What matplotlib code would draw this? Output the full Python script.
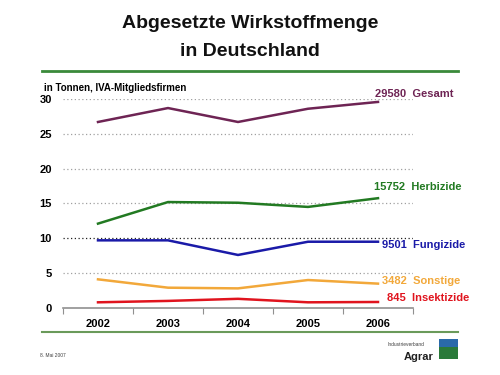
import matplotlib
matplotlib.use("Agg")
import matplotlib.pyplot as plt
from matplotlib.patches import Rectangle
from matplotlib.lines import Line2D
import numpy as np

plt.rcParams['font.family'] = ['Liberation Sans', 'DejaVu Sans']

years = ['2002', '2003', '2004', '2005', '2006']
gesamt = [26.7, 28.7, 26.7, 28.6, 29.58]
herbizide = [12.1, 15.2, 15.1, 14.5, 15.752]
fungizide = [9.7, 9.7, 7.6, 9.5, 9.501]
sonstige = [4.1, 2.9, 2.8, 4.0, 3.482]
insektizide = [0.8, 1.0, 1.3, 0.8, 0.845]

series = [
    (gesamt, '#6E2454', '29580', 'Gesamt', 30.7, 3.96),
    (herbizide, '#227A22', '15752', 'Herbizide', 17.4, 3.94),
    (fungizide, '#1A1AA8', '9501', 'Fungizide', 9.0, 4.06),
    (sonstige, '#F2A83A', '3482', 'Sonstige', 3.9, 4.06),
    (insektizide, '#E0141E', '845', 'Insektizide', 1.4, 4.13),
]

fig = plt.figure(figsize=(5, 3.75), dpi=100)
fig.patch.set_facecolor('white')

ax = fig.add_axes([0.126, 0.179, 0.700, 0.557])
x = np.arange(len(years))
for vals, col, num, name, ly, lx in series:
    ax.plot(x, vals, color=col, lw=1.8, solid_joinstyle='miter')
    ax.text(lx, ly, num + '  ' + name, color=col, fontsize=8, fontweight='bold',
            ha='left', va='center', clip_on=False)

ax.set_xlim(-0.5, 4.5)
ax.set_ylim(0, 30)
for v in [5, 15, 20, 25, 30]:
    ax.axhline(v, color='#A0A0A0', lw=0.9, ls=(0, (1, 2)), zorder=0)
ax.axhline(10, color='#202020', lw=0.9, ls=(0, (1, 2)), zorder=0)

for s in ['top', 'right', 'left']:
    ax.spines[s].set_visible(False)
ax.spines['bottom'].set_color('#909090')
ax.spines['bottom'].set_linewidth(1.2)
ax.set_xticks(np.arange(-0.5, 4.6, 1.0))
ax.set_xticklabels([])
ax.tick_params(axis='x', length=4, color='#909090', direction='out')
ax.set_xticks(x, minor=True)
ax.set_xticklabels(years, minor=True, fontsize=8, fontweight='bold')
ax.tick_params(axis='x', which='minor', length=0, pad=8)
ax.set_yticks([0, 5, 10, 15, 20, 25, 30])
ax.set_yticklabels(['0', '5', '10', '15', '20', '25', '30'], fontsize=8, fontweight='bold')
ax.tick_params(axis='y', length=0, pad=8)

fig.text(0.5, 0.936, 'Abgesetzte Wirkstoffmenge', ha='center', va='center',
         fontsize=14, fontweight='bold', color='#111111')
fig.text(0.5, 0.862, 'in Deutschland', ha='center', va='center',
         fontsize=14, fontweight='bold', color='#111111')
fig.text(0.088, 0.765, 'in Tonnen, IVA-Mitgliedsfirmen', ha='left', va='center',
         fontsize=7, fontweight='bold')

fig.add_artist(Line2D([0.084, 0.916], [0.811, 0.811], color='#3A8A3A', lw=2))
fig.add_artist(Line2D([0.084, 0.916], [0.115, 0.115], color='#6A9A5A', lw=1.5))

fig.text(0.08, 0.052, '8. Mai 2007', fontsize=3.5, color='#404040', va='center')
fig.text(0.848, 0.080, 'Industrieverband', fontsize=3.5, color='#404040', ha='right', va='center')
fig.text(0.868, 0.048, 'Agrar', fontsize=8, fontweight='bold', color='#202020', ha='right', va='center')
fig.add_artist(Rectangle((0.878, 0.043), 0.038, 0.053, transform=fig.transFigure,
                         facecolor='#2A7A3A', edgecolor='none'))
fig.add_artist(Rectangle((0.878, 0.075), 0.038, 0.021, transform=fig.transFigure,
                         facecolor='#2A6AAA', edgecolor='none'))

fig.savefig('out.png', dpi=100, facecolor='white')
